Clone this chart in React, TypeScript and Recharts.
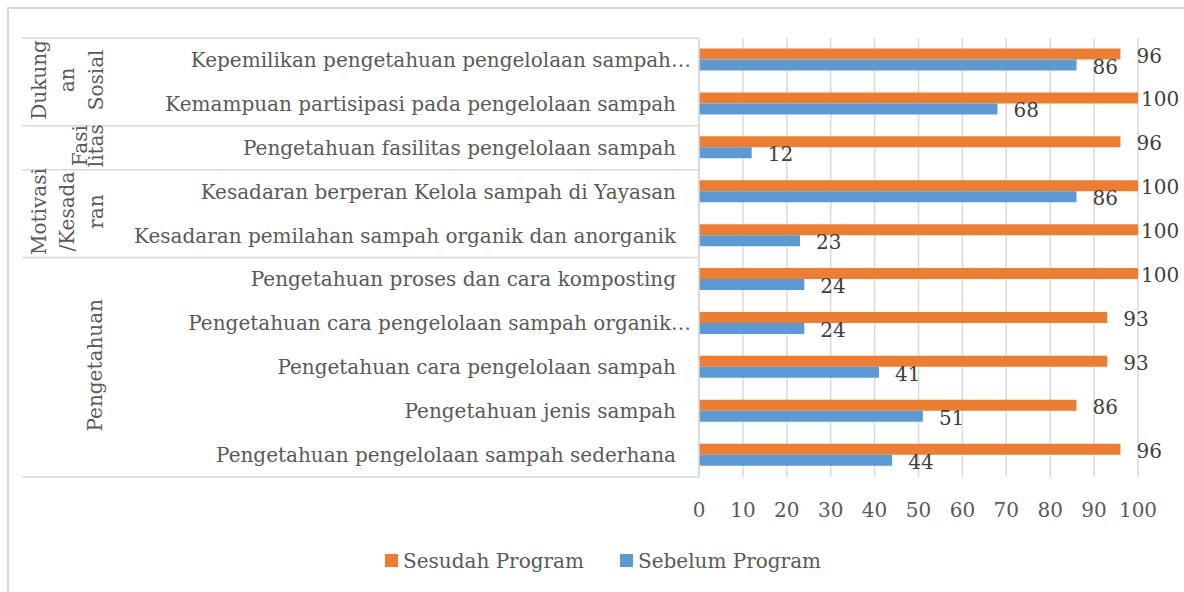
import { BarChart, Bar, XAxis, YAxis, CartesianGrid, Legend, LabelList } from "recharts";

// top-to-bottom order as shown in the chart
const categories = [
  "Kepemilikan pengetahuan pengelolaan sampah…",
  "Kemampuan partisipasi pada pengelolaan sampah",
  "Pengetahuan fasilitas pengelolaan sampah",
  "Kesadaran berperan Kelola sampah di Yayasan",
  "Kesadaran pemilahan sampah organik dan anorganik",
  "Pengetahuan proses dan cara komposting",
  "Pengetahuan cara pengelolaan sampah organik…",
  "Pengetahuan cara pengelolaan sampah",
  "Pengetahuan jenis sampah",
  "Pengetahuan pengelolaan sampah sederhana",
];
const sesudah = [96, 100, 96, 100, 100, 100, 93, 93, 86, 96];
const sebelum = [86, 68, 12, 86, 23, 24, 24, 41, 51, 44];
const xTicks = [0, 10, 20, 30, 40, 50, 60, 70, 80, 90, 100];

// group labels, wrapped the way the original shows them
const groupLines = [
  ["Dukung", "an", "Sosial"],
  ["Fasi", "litas"],
  ["Motivasi", "/Kesada", "ran"],
  ["Pengetahuan"],
];
const groupSizes = [2, 1, 2, 5];
const seriesNames = ["Sesudah Program", "Sebelum Program"];

const data = categories.map((name, i) => ({
  name,
  sesudah: sesudah[i],
  sebelum: sebelum[i],
}));

const W = 1184;
const H = 592;
const MARGIN = { top: 38, right: 46, left: 0, bottom: 14 };
const Y_W = 699;
const X_H = 66;
const LEGEND_H = 35;
const XMAX = 100;
const PLOT_H = H - MARGIN.top - MARGIN.bottom - X_H - LEGEND_H;
const BAND = PLOT_H / categories.length;

const FONT = "'DejaVu Serif', serif";
const ORANGE = "#ED7D31";
const BLUE = "#5B9BD5";
const GRID = "#d9d9d9";
const TEXT = "#595959";

// x positions of each wrapped line of the rotated group labels
const groupX = [
  [46, 74, 103],
  [87, 103],
  [46, 74, 103],
  [102],
];

const groupStart: number[] = [];
let acc = 0;
groupSizes.forEach((n) => {
  groupStart.push(acc);
  acc += n;
});

const CategoryTick = (props: any) => {
  const { y, payload } = props;
  const i = payload.index;
  const label = String(payload.value);
  const gi = groupStart.indexOf(i);
  return (
    <g>
      <text
        x={label.endsWith("…") ? 691 : 676}
        y={y}
        dy="0.35em"
        textAnchor="end"
        fontFamily={FONT}
        fontSize={20}
        fill={TEXT}
      >
        {label}
      </text>
      {gi >= 0 && (
        <g>
          <line x1={22} x2={Y_W} y1={y - BAND / 2} y2={y - BAND / 2} stroke={GRID} strokeWidth={1.5} />
          {groupLines[gi].map((ln, k) => {
            const lx = groupX[gi][k];
            const cy = y + ((groupSizes[gi] - 1) * BAND) / 2 - 2;
            return (
              <text
                key={k}
                x={lx}
                y={cy}
                transform={`rotate(-90 ${lx} ${cy})`}
                textAnchor="middle"
                fontFamily={FONT}
                fontSize={20}
                fill={TEXT}
              >
                {ln}
              </text>
            );
          })}
        </g>
      )}
      {i === categories.length - 1 && (
        <line x1={22} x2={Y_W} y1={y + BAND / 2} y2={y + BAND / 2} stroke={GRID} strokeWidth={1.5} />
      )}
    </g>
  );
};

const ValueTick = (props: any) => {
  const { x, y, payload } = props;
  return (
    <text x={x} y={y + 32} textAnchor="middle" fontFamily={FONT} fontSize={20} fill={TEXT}>
      {payload.value}
    </text>
  );
};

const ValueLabel = (props: any) => {
  const { x, y, width, height, value } = props;
  const end = x + width;
  const plotRight = value > 0 ? x + (width * XMAX) / value : end;
  const tx = Math.min(end + 16, plotRight + 3);
  return (
    <text x={tx} y={y + height / 2 + 1.5} dy="0.35em" fontFamily={FONT} fontSize={20} fill="#404040">
      {value}
    </text>
  );
};

const LegendBox = () => (
  <div
    style={{
      height: LEGEND_H,
      display: "flex",
      alignItems: "center",
      paddingLeft: 385,
      fontFamily: FONT,
      fontSize: 20,
      color: TEXT,
    }}
  >
    {seriesNames.map((s, i) => (
      <div key={s} style={{ display: "flex", alignItems: "center", marginRight: 36 }}>
        <span style={{ width: 13, height: 13, background: i === 0 ? ORANGE : BLUE, marginRight: 5 }} />
        <span>{s}</span>
      </div>
    ))}
  </div>
);

export default function App() {
  return (
    <div
      style={{
        position: "fixed",
        left: 0,
        top: 0,
        width: W,
        height: H,
        overflow: "hidden",
        background: "#fff",
      }}
    >
      <div
        style={{
          position: "absolute",
          left: 7,
          top: 7,
          width: W + 20,
          height: H + 20,
          border: `2px solid ${GRID}`,
        }}
      />
      <div style={{ position: "absolute", left: 0, top: 0 }}>
        <BarChart
          width={W}
          height={H}
          data={data}
          layout="vertical"
          margin={MARGIN}
          barCategoryGap="24%"
          barGap={0}
        >
          <CartesianGrid horizontal={false} stroke={GRID} strokeWidth={1.5} />
          <XAxis
            type="number"
            domain={[0, XMAX]}
            ticks={xTicks}
            height={X_H}
            axisLine={false}
            tickLine={false}
            tick={<ValueTick />}
            interval={0}
          />
          <YAxis
            type="category"
            dataKey="name"
            width={Y_W}
            tickLine={false}
            axisLine={{ stroke: GRID, strokeWidth: 1.5 }}
            tick={<CategoryTick />}
            interval={0}
          />
          <Legend verticalAlign="bottom" wrapperStyle={{ left: 0, width: W }} content={<LegendBox />} />
          <Bar dataKey="sesudah" name={seriesNames[0]} fill={ORANGE} isAnimationActive={false}>
            <LabelList dataKey="sesudah" content={<ValueLabel />} />
          </Bar>
          <Bar dataKey="sebelum" name={seriesNames[1]} fill={BLUE} isAnimationActive={false}>
            <LabelList dataKey="sebelum" content={<ValueLabel />} />
          </Bar>
        </BarChart>
      </div>
    </div>
  );
}
